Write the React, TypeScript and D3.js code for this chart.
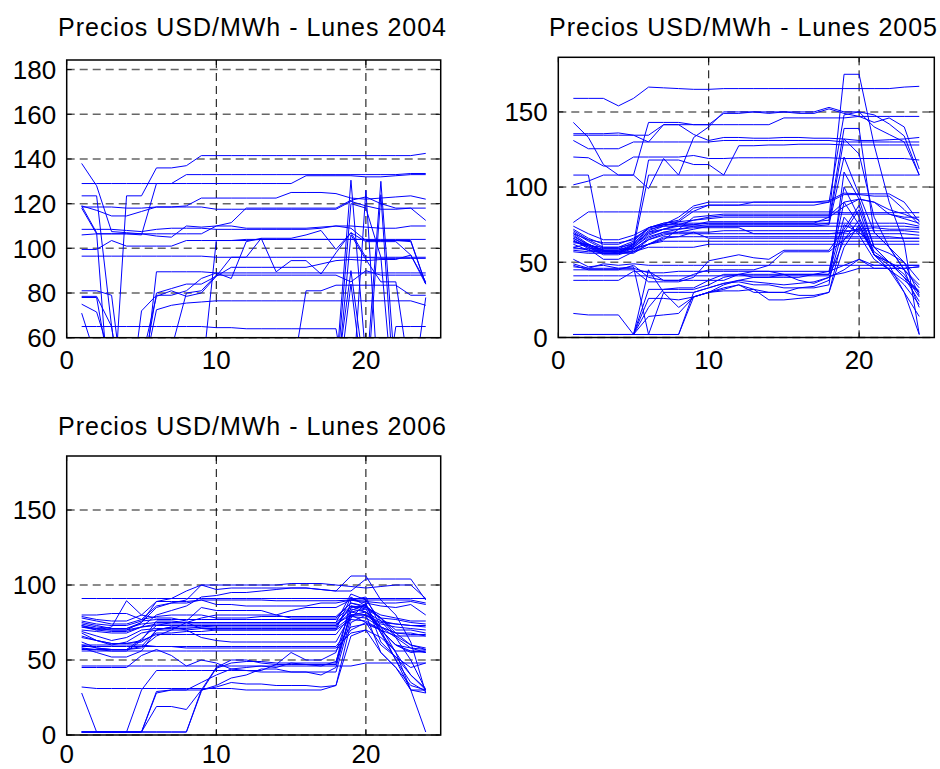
import React from "react";
import * as d3 from "d3";

const HOURS = [1, 2, 3, 4, 5, 6, 7, 8, 9, 10, 11, 12, 13, 14, 15, 16, 17, 18, 19, 20, 21, 22, 23, 24];
const X_TICKS = [0, 10, 20];
const Y_TICKS_2004 = [60, 80, 100, 120, 140, 160, 180];
const Y_TICKS_2005 = [0, 50, 100, 150];
const Y_TICKS_2006 = [0, 50, 100, 150];
const TITLE_2004 = "Precios USD/MWh - Lunes 2004";
const TITLE_2005 = "Precios USD/MWh - Lunes 2005";
const TITLE_2006 = "Precios USD/MWh - Lunes 2006";

const PRICES_2004: number[][] = [
  [138, 128, 107.5, 107, 106.5, 105.5, 105, 110, 109.5, 110, 110, 109, 109, 109, 109, 109, 109.5, 110, 110, 109.5, 109, 109, 110, 110],
  [129, 129, 129, 129, 129, 129, 129, 129, 129, 129, 129, 129, 129, 129, 129, 132.5, 132.5, 132.5, 132.5, 132, 132, 132.5, 133, 133],
  [106, 106.5, 106.5, 106.5, 106, 129, 129, 133, 133, 133, 133, 133, 133, 133, 133, 133, 133, 133, 133, 133, 133, 133, 133.5, 133.5],
  [119, 107, 18, 123.5, 123.5, 136, 136, 137, 141.5, 141.5, 141.5, 141.5, 141.5, 141.5, 141.5, 141.5, 141.5, 141.5, 141.5, 141.5, 141.5, 141.5, 141.5, 142.5],
  [123.5, 123.5, 65, 20, 30, 89.5, 89.5, 89.5, 89.5, 89, 89, 89, 89, 89, 89, 89, 89, 89, 89, 89, 89, 89, 89, 89],
  [119, 117, 114.5, 114.5, 116.5, 118.5, 118.5, 118.5, 118.5, 117.5, 117.5, 117.5, 117.5, 117.5, 117.5, 117.5, 117.5, 117.5, 121, 119, 117.5, 117.5, 118, 118],
  [118.5, 118.5, 118.5, 118, 118, 118.5, 118.5, 119, 122.5, 122.5, 122.5, 122.5, 122.5, 122.5, 125, 125, 125, 124.5, 122.5, 122, 122.5, 123, 123.5, 122],
  [118, 106.5, 106.5, 106.5, 106.5, 106.5, 106.5, 106.5, 106.5, 110, 111.5, 118, 118, 118, 118, 118, 118, 118, 121.5, 123, 120, 118, 118, 112.5],
  [108.5, 108.5, 108.5, 108, 107.5, 108.5, 109, 109, 109, 108.5, 108.5, 108.5, 108.5, 108.5, 108.5, 108.5, 109, 110, 109, 103.5, 103.5, 103.5, 103.5, 84],
  [99.5, 99.5, 103.5, 101, 101, 101, 101, 103.5, 103.5, 103.5, 103.5, 103.5, 104, 104, 104, 104, 104, 104, 104, 104, 104, 104, 104, 104],
  [96.5, 96.5, 96.5, 96.5, 96.5, 96.5, 96.5, 96.5, 96.5, 96, 96, 96, 96, 96, 96, 96, 96, 96, 96, 96, 96, 96, 96, 96],
  [81, 81, 79, 25, 40, 80, 82, 84, 84, 87.5, 91.5, 91.5, 91.5, 91.5, 91.5, 91.5, 93, 94.5, 95, 94.5, 95, 95, 97, 84],
  [78.5, 78.5, 65, 20, 72, 79, 79, 81, 86.5, 89, 86.5, 103, 104.5, 89.5, 94.5, 94.5, 88.5, 98, 107, 103, 103, 103, 97, 85],
  [78, 78, 40, 20, 40, 72.5, 74.5, 75.5, 76, 76.5, 76.5, 76.5, 76.5, 76.5, 76.5, 76.5, 76.5, 76.5, 76.5, 76.5, 76.5, 76.5, 76.5, 74.5],
  [75, 71.5, 50, 20, 30, 40, 55, 80, 81, 88, 88, 88, 88, 88, 88, 88, 88, 88, 85, 90, 88, 88, 88, 88],
  [71, 50, 20, 30, 50, 78.5, 81, 78.5, 80, 87.5, 96, 96, 104.5, 104.5, 104.5, 106, 108, 99.5, 107, 96, 95.5, 95.5, 95.5, 95.5],
  [65, 65, 65, 65, 65, 65, 65, 65, 65, 64.5, 64.5, 64, 64, 64, 64, 64, 64, 64, 25, 126, 20, 65, 65, 65],
  [60, 40, 20, 20, 20, 20, 20, 20, 40, 103.5, 103.5, 104, 104, 104, 104, 104, 104, 104, 104, 104, 103.5, 103.5, 103, 84],
  [45, 40, 35, 35, 35, 35, 35, 35, 35, 35, 35, 35, 35, 35, 40, 81, 81, 83.5, 83.5, 83.5, 83.5, 83.5, 79, 79],
  [55, 40, 30, 30, 40, 40, 40, 40, 40, 40, 40, 40, 40, 40, 40, 40, 40, 45, 130.5, 50, 40, 40, 40, 40],
  [50, 45, 40, 40, 40, 40, 40, 40, 40, 40, 40, 40, 40, 40, 40, 40, 40, 40, 90, 40, 130, 40, 30, 30],
  [52, 45, 40, 40, 40, 40, 40, 40, 40, 40, 40, 40, 40, 40, 40, 40, 40, 30, 84, 30, 124, 25, 30, 30],
  [50, 45, 40, 40, 40, 40, 40, 40, 40, 40, 40, 40, 40, 40, 40, 40, 40, 35, 106, 95, 85, 85, 40, 30],
  [55, 45, 40, 40, 40, 40, 40, 40, 40, 40, 40, 40, 40, 40, 40, 40, 40, 40, 120, 118, 96, 20, 30, 78],
];

const PRICES_2005: number[][] = [
  [159, 159, 159, 154, 159, 166.5, 166, 165.5, 165, 165, 165.5, 165.5, 165.5, 165.5, 165.5, 165.5, 165.5, 165.5, 165.5, 165.5, 165.5, 165.5, 166.5, 167],
  [143, 133, 115, 108, 108, 143, 143, 143, 141.5, 141.5, 149, 149, 150, 149, 150, 149, 149, 152, 149, 147, 143, 146, 140, 112],
  [135.5, 135.5, 135.5, 136, 134.5, 130, 141.5, 141.5, 141.5, 141.5, 141.5, 141.5, 141.5, 141.5, 146, 146, 146, 146, 146, 147, 147, 147, 147, 147],
  [134.5, 134.5, 134.5, 134.5, 134.5, 134.5, 141.5, 141.5, 135, 131, 133, 133, 132.5, 132.5, 133, 133, 132.5, 132.5, 132, 131, 131, 131.5, 132, 133],
  [131, 125.5, 125.5, 125.5, 130, 130, 130, 130, 130, 130, 131, 131, 131, 131, 131, 131, 131, 131, 130, 130, 130, 130, 130, 130],
  [120, 119.5, 114, 114, 120, 120, 120, 120, 121, 119, 119, 119.5, 119.5, 119.5, 119.5, 119.5, 119.5, 119.5, 119, 119, 119, 119, 119, 118],
  [101.5, 104, 108, 108, 108, 99, 119, 108, 133, 140, 150, 150, 150, 150, 150, 150, 150, 153, 150, 150, 148, 142, 134, 108],
  [108, 108, 57, 57, 60, 108, 108, 108, 108, 108, 108, 108, 108, 108, 108, 108, 108, 108, 108, 108, 108, 108, 108, 108],
  [60, 62, 58, 56, 62, 118, 118, 118, 115, 115, 108, 127.5, 127.5, 128, 128, 128.5, 128.5, 128.5, 128, 128, 128, 128, 128, 128],
  [76.5, 83.5, 83.5, 83.5, 83.5, 83.5, 83.5, 83.5, 83.5, 83.5, 83.5, 83.5, 83.5, 83.5, 83.5, 83.5, 83.5, 83.5, 83, 83, 83, 83, 83, 83],
  [74, 69, 65, 65, 68, 73, 75, 80, 87.5, 90, 90, 90, 90, 90, 90, 90, 90, 90, 95, 95, 94, 94, 85, 75],
  [72, 66, 62, 62, 66, 72, 74, 77, 84, 88, 88, 88, 90, 90, 90, 90, 90, 91, 96, 95.5, 95.5, 95.5, 90, 77],
  [70, 64, 59, 59, 63, 71, 75, 75, 75, 76, 76, 76, 76, 76, 76, 76, 76, 76, 76, 76, 76, 76, 76, 74],
  [69, 62, 57, 57, 61, 70, 74, 74, 74, 74, 74, 74, 74, 74, 74, 74, 74, 74, 74, 74, 74, 74, 74, 73],
  [68, 61, 56, 56, 60, 68, 72, 72, 73, 73, 73, 73, 69, 69, 69, 69, 69, 69, 70, 72, 73, 72, 72, 72],
  [66, 60, 55, 55, 58, 66, 70, 70, 70, 70, 71, 71, 71, 71, 71, 71, 71, 71, 71, 71, 71, 71, 71, 70],
  [65, 59, 52, 52, 57, 65, 69, 69, 69, 69, 69, 69, 69, 69, 69, 69, 69, 69, 69, 69, 69, 69, 69, 68],
  [62, 58, 56, 56, 57, 62, 67, 67, 67, 67, 67, 67, 67, 67, 67, 67, 67, 67, 67, 67, 67, 67, 66, 66],
  [60, 58, 58, 58, 59, 62, 64, 64, 64, 64, 64, 64, 64, 64, 64, 64, 64, 64, 64, 64, 64, 64, 64, 64],
  [58, 57, 57, 57, 57, 60, 60, 60, 60, 62, 62, 62, 62, 62, 62, 62, 62, 62, 62, 62, 62, 62, 62, 62],
  [57, 56, 56, 56, 56, 62, 65, 72, 80, 81, 82, 82, 82, 82, 82, 82, 82, 82, 82, 82, 82, 82, 80, 80],
  [64, 61, 60, 60, 62, 70, 72, 75, 78, 80, 81, 81, 81, 81, 81, 81, 81, 81, 90, 92, 90, 85, 82, 78],
  [69, 65, 63, 63, 65, 73, 76, 77, 78, 79, 80, 80, 80, 80, 80, 80, 80, 80, 87, 92, 90, 82, 79, 76],
  [59, 59, 59, 59, 59, 62, 66, 67, 70, 66, 66, 66, 66, 66, 66, 66, 66, 66, 66, 66, 66, 66, 66, 66],
  [63, 62, 58, 58, 62, 73, 75, 76, 76, 76, 76, 76, 76, 76, 76, 76, 76, 80, 175, 175, 128, 90, 63, 2],
  [71, 65, 60, 60, 64, 73, 76, 78, 86, 88, 88, 88, 88, 88, 88, 88, 88, 90, 148, 150, 140, 135, 130, 108],
  [67, 62, 58, 58, 61, 69, 72, 74, 75, 77, 77, 77, 77, 77, 77, 77, 77, 78, 139, 139, 70, 60, 50, 28],
  [66, 61, 57, 57, 60, 67, 70, 72, 74, 75, 75, 75, 75, 75, 75, 75, 75, 76, 132, 122, 80, 60, 45, 20],
  [64, 60, 56, 56, 59, 65, 68, 70, 72, 74, 74, 74, 74, 74, 74, 74, 74, 75, 120, 95, 70, 60, 45, 33],
  [2, 2, 2, 2, 2, 20, 32, 32, 32, 35, 40, 42, 40, 40, 42, 42, 42, 42, 100, 80, 57, 50, 42, 27],
  [2, 2, 2, 2, 2, 32, 32, 33, 33, 38, 42, 42, 44, 44, 42, 42, 42, 44, 90, 75, 55, 45, 38, 30],
  [2, 2, 2, 2, 2, 45, 30, 20, 27, 30, 33, 35, 30, 30, 30, 33, 33, 35, 110, 92, 60, 50, 40, 24],
  [2, 2, 2, 2, 2, 14, 15, 16, 27, 30, 31, 31, 32, 30, 30, 28, 28, 30, 70, 85, 55, 45, 30, 14],
  [2, 2, 2, 2, 2, 2, 2, 2, 27, 30, 32, 35, 32, 25, 25, 26, 27, 30, 60, 75, 55, 48, 30, 2],
  [2, 2, 2, 2, 2, 2, 2, 2, 30, 33, 36, 37, 35, 35, 33, 33, 34, 38, 75, 70, 60, 50, 40, 30],
  [16, 15, 15, 15, 2, 26, 26, 25, 27, 30, 35, 38, 40, 40, 40, 40, 42, 42, 80, 68, 52, 45, 35, 22],
  [52, 47, 48, 46, 47, 2, 30, 30, 30, 33, 36, 38, 37, 36, 35, 36, 37, 40, 45, 52, 48, 48, 48, 48],
  [49, 46, 49, 48, 49, 48, 48, 48, 48, 48, 48, 48, 48, 48, 48, 48, 48, 48, 48, 48, 48, 48, 48, 48],
  [47, 46, 46, 46, 46, 43, 43, 44, 44, 44, 44, 44, 44, 44, 44, 44, 44, 44, 48, 52, 46, 46, 46, 47],
  [41, 41, 41, 41, 41, 41, 41, 41, 41, 41, 41, 41, 41, 41, 41, 41, 41, 41, 43, 46, 46, 46, 46, 47],
  [45, 45, 45, 45, 45, 37, 37, 37, 40, 51, 53, 55, 53, 52, 58, 58, 58, 58, 72, 88, 60, 56, 50, 38],
  [48, 45, 45, 45, 48, 40, 38, 38, 42, 45, 45, 45, 45, 48, 57, 57, 57, 57, 65, 73, 55, 50, 45, 35],
  [38, 38, 38, 38, 44, 44, 38, 38, 38, 38, 38, 42, 42, 42, 42, 38, 36, 40, 65, 78, 55, 50, 40, 31],
];

const PRICES_2006: number[][] = [
  [91, 91, 91, 91, 91, 91, 91, 91, 91, 91, 91, 91, 91, 91, 91, 91, 91, 91, 91, 91, 91, 91, 91, 91],
  [79, 77, 76, 76, 80, 89, 89, 89, 90, 90, 90, 90, 90, 89.5, 89.5, 89.5, 89.5, 89.5, 90, 90, 90, 90, 90, 88],
  [80, 80, 81, 81, 77, 86, 88, 88, 90, 87, 87, 86, 86, 86, 86, 86, 88, 88, 90, 89, 88, 88, 89, 87],
  [73, 70, 72, 89.5, 80, 78, 78, 76, 85, 83, 83, 83, 83, 80, 83, 85, 85, 85, 90, 88, 86, 85, 87, 80],
  [75, 73, 71, 71, 75, 89, 91, 96, 100, 100, 100, 100, 100, 100, 101, 101, 101, 100, 99, 98, 99, 100, 100, 91],
  [72, 71, 70, 70, 75, 85, 88, 90, 100, 97, 98, 98, 98, 98, 98, 98, 97, 96, 106, 106, 90, 80, 62, 28],
  [70, 69, 68, 68, 72, 80, 83, 86, 92, 93, 95, 95, 96, 97, 98, 98, 97, 96, 96, 104, 104, 104, 104, 90],
  [78, 76, 74, 74, 77, 79, 80, 80, 80, 78, 78, 78, 79, 79, 79, 79, 79, 79, 88, 85, 80, 78, 76, 76],
  [76, 74, 73, 73, 76, 77, 77, 77, 77, 77, 77, 77, 77, 77, 77, 77, 77, 77, 86, 84, 78, 77, 75, 74],
  [74, 72, 71, 71, 74, 75, 75, 75, 75, 75, 75, 75, 75, 75, 75, 75, 75, 75, 84, 82, 76, 74, 73, 72],
  [72, 70, 69, 69, 72, 73, 73, 73, 73, 73, 73, 73, 73, 73, 73, 73, 73, 73, 82, 80, 74, 72, 71, 70],
  [69, 66, 63, 65, 70, 71, 71, 71, 72, 73, 73, 73, 73, 73, 73, 73, 73, 73, 86, 85, 78, 70, 70, 68],
  [68, 63, 60, 62, 68, 70, 70, 70, 71, 71, 71, 71, 71, 71, 71, 71, 71, 71, 79, 78, 72, 68, 68, 66],
  [66, 63, 61, 61, 62, 68, 68, 69, 69, 70, 70, 70, 70, 70, 70, 70, 70, 70, 77, 76, 70, 66, 66, 66],
  [62, 58, 57, 57, 58, 66, 70, 75, 78, 80, 80, 80, 80, 80, 78, 78, 78, 78, 88, 86, 78, 68, 60, 57],
  [60, 60, 60, 60, 60, 59, 59, 59, 59, 59, 59, 59, 59, 59, 59, 59, 59, 59, 72, 74, 70, 60, 58, 57],
  [59, 59, 59, 59, 59, 59, 59, 58, 58, 58, 58, 58, 58, 58, 58, 58, 58, 58, 68, 70, 65, 56, 56, 56],
  [57, 57, 57, 57, 59, 70, 72, 72, 72, 72, 72, 72, 72, 72, 72, 72, 72, 72, 86, 82, 72, 65, 58, 55],
  [56, 56, 56, 56, 56, 56, 56, 56, 56, 56, 56, 56, 56, 56, 56, 56, 56, 56, 70, 75, 70, 60, 56, 55],
  [58, 57, 56, 56, 63, 76, 76, 75, 71, 70, 70, 70, 70, 70, 70, 70, 70, 70, 92, 86, 78, 66, 60, 58],
  [60, 58, 57, 57, 64, 73, 75, 75, 75, 75, 75, 75, 75, 75, 75, 75, 75, 75, 94, 90, 76, 65, 50, 30],
  [46, 46, 46, 46, 46, 46, 46, 46, 46, 46, 46, 46, 46, 46, 46, 46, 46, 46, 46, 48, 48, 48, 48, 48],
  [45, 45, 45, 45, 53, 57, 53, 46, 50, 48, 44, 45, 46, 45, 48, 47, 46, 49, 80, 75, 60, 52, 40, 30],
  [32, 31, 31, 31, 31, 31, 31, 31, 31, 31, 31, 30, 30, 30, 30, 30, 30, 33, 75, 80, 55, 45, 33, 30],
  [28, 2, 2, 2, 2, 2, 2, 2, 30, 32, 35, 34, 34, 33, 33, 33, 32, 33, 66, 70, 55, 45, 30, 28],
  [2, 2, 2, 2, 2, 19, 19, 17, 30, 45, 50, 50, 48, 47, 55, 50, 50, 55, 85, 86, 70, 50, 30, 30],
  [2, 2, 2, 2, 2, 28, 30, 30, 30, 33, 38, 40, 44, 44, 42, 42, 40, 45, 82, 84, 68, 55, 40, 31],
  [2, 2, 2, 2, 30, 43, 43, 43, 43, 43, 43, 43, 43, 47, 47, 47, 47, 47, 83, 87, 68, 50, 35, 29],
  [2, 2, 2, 2, 2, 2, 2, 2, 29, 44.5, 48, 49, 49, 48, 48, 48, 48, 48, 90, 92, 72, 55, 30, 2],
  [2, 2, 2, 2, 2, 29, 30, 30, 35, 40, 44, 43, 42, 42, 42, 42, 42, 42, 78, 88, 62, 52, 45, 48],
  [58, 55, 52, 52, 56, 70, 72, 70, 65, 63, 62, 62, 62, 62, 62, 62, 62, 62, 80, 82, 70, 60, 55, 56],
  [65, 63, 61, 61, 63, 67, 67, 67, 67, 67, 67, 67, 67, 67, 67, 67, 67, 67, 80, 80, 72, 68, 67, 67],
  [73, 71, 70, 70, 72, 74, 74, 74, 74, 74, 74, 74, 74, 74, 74, 74, 74, 74, 80, 80, 75, 74, 73, 73],
];

const FONT = "'Liberation Sans', Arial, Helvetica, sans-serif";

type PanelProps = {
  id: string;
  left: number;
  right: number;
  top: number;
  bottom: number;
  yDomain: [number, number];
  yTicks: number[];
  title: string;
  titleY: number;
  titleX: number;
  xLabelOffset: number;
  data: number[][];
};

function Panel({ id, left, right, top, bottom, yDomain, yTicks, title, titleY, titleX, xLabelOffset, data }: PanelProps) {
  const x = d3.scaleLinear().domain([0, 25]).range([left, right]);
  const y = d3.scaleLinear().domain(yDomain).range([bottom, top]);
  const line = d3
    .line<number>()
    .x((_, i) => x(HOURS[i]))
    .y((d) => y(d));
  const tickLen = 5;
  return (
    <g>
      <defs>
        <clipPath id={id}>
          <rect x={left} y={top} width={right - left} height={bottom - top} />
        </clipPath>
      </defs>
      <rect x={left} y={top} width={right - left} height={bottom - top} fill="#fff" />
      {yTicks.map((t) => (
        <line key={"gy" + t} x1={left} x2={right} y1={y(t)} y2={y(t)} stroke="#666" strokeWidth={1.5} strokeDasharray="8,5" />
      ))}
      {X_TICKS.filter((t) => t > 0).map((t) => (
        <line key={"gx" + t} x1={x(t)} x2={x(t)} y1={top} y2={bottom} stroke="#000" strokeWidth={1} strokeDasharray="8,5" />
      ))}
      <g clipPath={`url(#${id})`}>
        {data.map((s, i) => (
          <path key={i} d={line(s) || ""} fill="none" stroke="#0000ff" strokeWidth={1} />
        ))}
      </g>
      {yTicks.map((t) => (
        <g key={"ty" + t}>
          <line x1={left} x2={left + tickLen} y1={y(t)} y2={y(t)} stroke="#000" strokeWidth={1} />
          <line x1={right} x2={right - tickLen} y1={y(t)} y2={y(t)} stroke="#000" strokeWidth={1} />
          <text x={left - 10.5} y={y(t) + 9.3} textAnchor="end" fontSize={26} fontFamily={FONT} fill="#000">
            {t}
          </text>
        </g>
      ))}
      {X_TICKS.map((t) => (
        <g key={"tx" + t}>
          <line x1={x(t)} x2={x(t)} y1={bottom} y2={bottom - tickLen} stroke="#000" strokeWidth={1} />
          <line x1={x(t)} x2={x(t)} y1={top} y2={top + tickLen} stroke="#000" strokeWidth={1} />
          <text x={x(t)} y={bottom + xLabelOffset} textAnchor="middle" fontSize={26} fontFamily={FONT} fill="#000">
            {t}
          </text>
        </g>
      ))}
      <rect x={left} y={top} width={right - left} height={bottom - top} fill="none" stroke="#000" strokeWidth={1.5} />
      <text x={titleX} y={titleY} textAnchor="middle" fontSize={25} fontFamily={FONT} fill="#000" textLength={388} lengthAdjust="spacing">
        {title}
      </text>
    </g>
  );
}

export default function App() {
  return (
    <svg
      width={940}
      height={769}
      style={{ position: "absolute", left: 0, top: 0, background: "#fff" }}
      xmlns="http://www.w3.org/2000/svg"
    >
      <rect x={0} y={0} width={940} height={769} fill="#fff" />
      <Panel id="c2004" left={66.7} right={440.7} top={60} bottom={337.7} yDomain={[60, 184.3]} yTicks={Y_TICKS_2004} title={TITLE_2004} titleY={36} titleX={252} xLabelOffset={31.5} data={PRICES_2004} />
      <Panel id="c2005" left={558.3} right={934.3} top={57.3} bottom={337.5} yDomain={[0, 186.3]} yTicks={Y_TICKS_2005} title={TITLE_2005} titleY={36} titleX={743} xLabelOffset={31.5} data={PRICES_2005} />
      <Panel id="c2006" left={66.7} right={440.7} top={456} bottom={735} yDomain={[0, 186]} yTicks={Y_TICKS_2006} title={TITLE_2006} titleY={435} titleX={252} xLabelOffset={27.5} data={PRICES_2006} />
    </svg>
  );
}
